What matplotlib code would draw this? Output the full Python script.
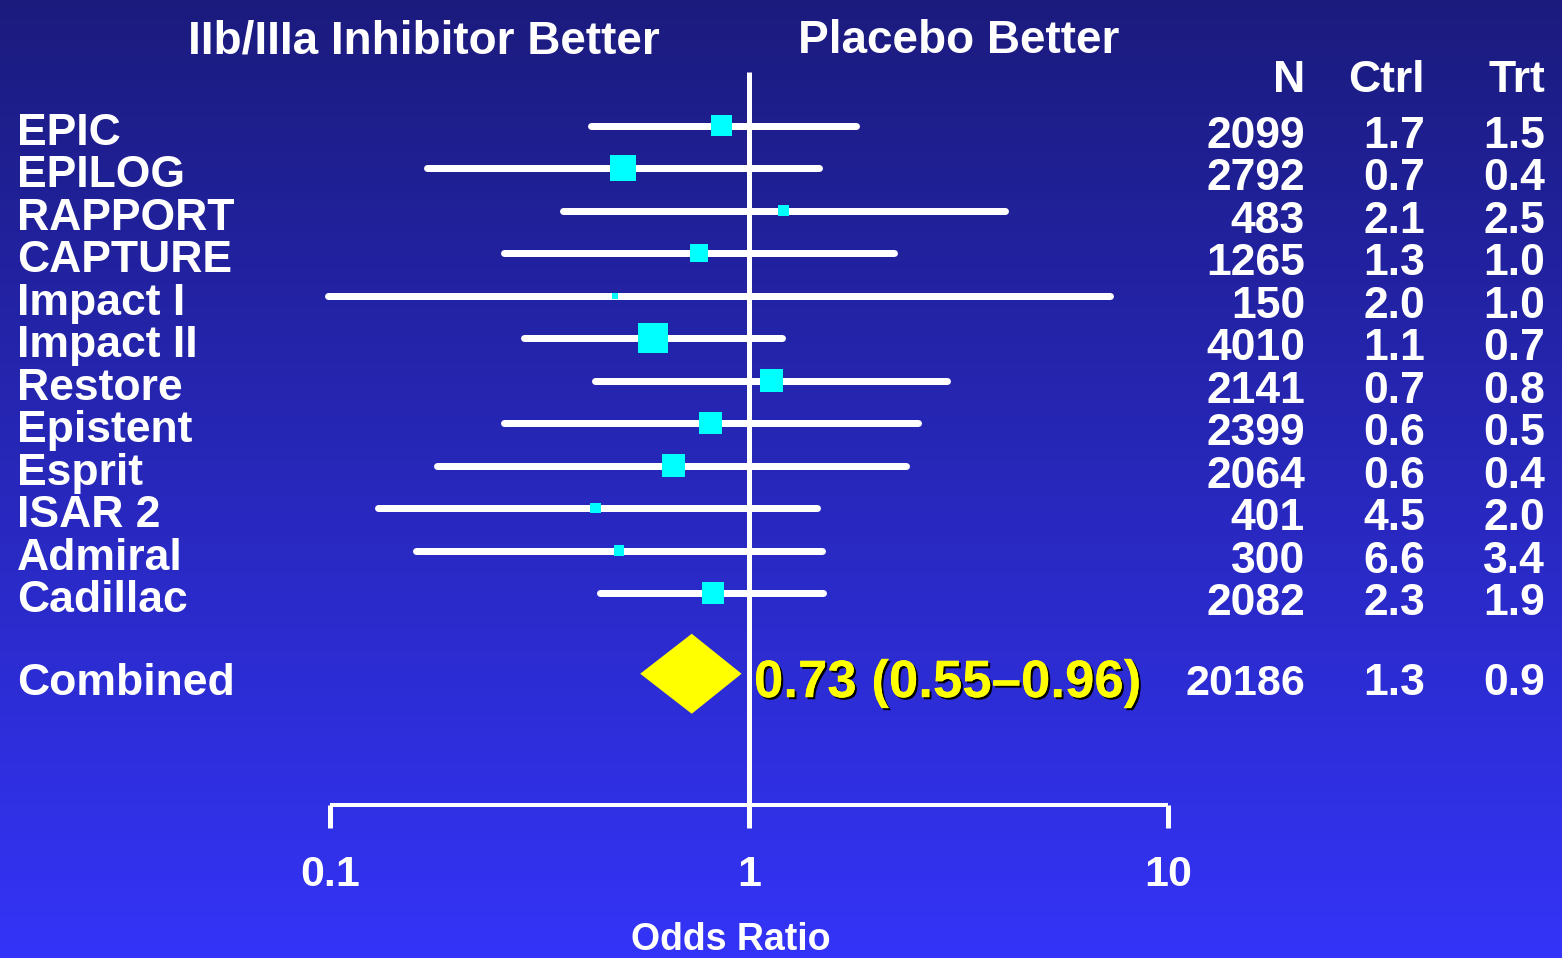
import numpy as np
import matplotlib
matplotlib.use("Agg")
import matplotlib.pyplot as plt
import matplotlib.patheffects as pe

plt.rcParams['font.family'] = ['Liberation Sans Narrow', 'Liberation Sans', 'DejaVu Sans']
plt.rcParams['font.weight'] = 'bold'

# data
studies = ["EPIC", "EPILOG", "RAPPORT", "CAPTURE", "Impact I", "Impact II",
           "Restore", "Epistent", "Esprit", "ISAR 2", "Admiral", "Cadillac"]
odds = [0.86, 0.50, 1.21, 0.76, 0.48, 0.59, 1.13, 0.81, 0.66, 0.43, 0.49, 0.82]
ci_lo = [0.42, 0.17, 0.36, 0.26, 0.099, 0.29, 0.43, 0.26, 0.18, 0.13, 0.16, 0.44]
ci_hi = [1.80, 1.47, 4.08, 2.22, 7.27, 1.20, 2.97, 2.53, 2.37, 1.45, 1.49, 1.50]
weights = [9.6, 13.6, 2.7, 6.4, 0.75, 19.4, 11.0, 11.0, 11.0, 2.3, 2.1, 10.1]  # % weight
n_pts = ["2099", "2792", "483", "1265", "150", "4010", "2141", "2399", "2064", "401", "300", "2082"]
ctrl = ["1.7", "0.7", "2.1", "1.3", "2.0", "1.1", "0.7", "0.6", "0.6", "4.5", "6.6", "2.3"]
trt = ["1.5", "0.4", "2.5", "1.0", "1.0", "0.7", "0.8", "0.5", "0.4", "2.0", "3.4", "1.9"]

comb_or, comb_lo, comb_hi = 0.73, 0.55, 0.96
comb_n, comb_ctrl, comb_trt = "20186", "1.3", "0.9"

ticks = [0.1, 1, 10]
tick_labels = ["0.1", "1", "10"]

W, H = 1562, 958
fig = plt.figure(figsize=(W / 100, H / 100), dpi=100)

# background gradient
bg = fig.add_axes([0, 0, 1, 1], zorder=-1)
top = np.array([27, 27, 126]) / 255
bot = np.array([52, 52, 248]) / 255
t = np.linspace(0, 1, 256)[:, None]
grad = (top[None, :] * (1 - t) + bot[None, :] * t)[:, None, :]
bg.imshow(grad, aspect='auto', extent=[0, 1, 0, 1])
bg.axis('off')

ax = fig.add_axes([0, 0, 1, 1])
ax.patch.set_alpha(0)
ax.set_xscale('log')
# 0.1 -> 330px, 10 -> 1168px
ppd = 419.0
ax.set_xlim(10 ** (-1 - 330 / ppd), 10 ** (-1 + (W - 330) / ppd))
row_h = 42.5
y0 = 125.5
ax.set_ylim((H - y0) / row_h, -y0 / row_h)
ax.axis('off')

rows = np.arange(len(studies))
comb_row = 12.9
px = 0.72  # points per pixel

# CI lines
lc = ax.hlines(rows, ci_lo, ci_hi, color='white', lw=7 * px, zorder=2)
lc.set_capstyle('round')

# boxes
side = np.sqrt(np.array(weights) * 48.0) * px
ax.scatter(odds, rows, s=side ** 2, marker='s', color='#00ffff', lw=0, zorder=3)

# reference line and axis
axis_row = (805 - y0) / row_h
ax.vlines(1, (72 - y0) / row_h, axis_row, color='white', lw=5 * px, zorder=1)
ax.hlines(axis_row, ticks[0], ticks[-1], color='white', lw=4 * px, zorder=1)
ax.vlines(ticks, axis_row, (828 - y0) / row_h, color='white', lw=5 * px)
for tv, tl in zip(ticks, tick_labels):
    ax.text(tv, (886 - y0) / row_h, tl, color='white', fontsize=31,
            ha='center', va='baseline')

yt = ax.get_yaxis_transform()
ax.text(0.468, (950 - y0) / row_h, "Odds Ratio", color='white', fontsize=27,
        ha='center', va='baseline', transform=yt)

# combined diamond
dh = 40 / row_h
ax.fill([comb_lo, comb_or, comb_hi, comb_or],
        [comb_row, comb_row - dh, comb_row, comb_row + dh],
        color='#ffff00', lw=0, zorder=3)
ax.text(0.4827, comb_row + 0.55, f"{comb_or:.2f} ({comb_lo:.2f}\u2013{comb_hi:.2f})",
        color='#ffff00', fontsize=38, family=['Liberation Sans', 'DejaVu Sans'],
        ha='left', va='baseline', transform=yt,
        path_effects=[pe.withSimplePatchShadow(offset=(1.5, -1.5), shadow_rgbFace='black', alpha=1),
                      pe.Normal()])

fs_lab = 32
fs_num = 32
# study labels and columns
for i, name in enumerate(studies):
    ax.text(0.0109, i + 0.45, name, color='white', fontsize=fs_lab, ha='left', va='baseline', transform=yt)
    ax.text(0.8355, i + 0.52, n_pts[i], color='white', fontsize=fs_num, ha='right', va='baseline', transform=yt)
    ax.text(0.9123, i + 0.52, ctrl[i], color='white', fontsize=fs_num, ha='right', va='baseline', transform=yt)
    ax.text(0.9891, i + 0.52, trt[i], color='white', fontsize=fs_num, ha='right', va='baseline', transform=yt)

ax.text(0.0109, comb_row + 0.5, "Combined", color='white', fontsize=fs_lab, ha='left', va='baseline', transform=yt)
ax.text(0.8355, comb_row + 0.5, comb_n, color='white', fontsize=31, ha='right', va='baseline', transform=yt)
ax.text(0.9123, comb_row + 0.5, comb_ctrl, color='white', fontsize=fs_num, ha='right', va='baseline', transform=yt)
ax.text(0.9891, comb_row + 0.5, comb_trt, color='white', fontsize=fs_num, ha='right', va='baseline', transform=yt)

# headers
hdr_row = (53 - y0) / row_h
ax.text(0.2714, hdr_row, "IIb/IIIa Inhibitor Better", color='white', fontsize=33,
        ha='center', va='baseline', transform=yt)
ax.text(0.614, hdr_row, "Placebo Better", color='white', fontsize=33,
        ha='center', va='baseline', transform=yt)
col_row = (92 - y0) / row_h
for xf, lab in [(0.8355, "N"), (0.9123, "Ctrl"), (0.9891, "Trt")]:
    ax.text(xf, col_row, lab, color='white', fontsize=32, ha='right', va='baseline', transform=yt)

fig.savefig("out.png", dpi=100)
